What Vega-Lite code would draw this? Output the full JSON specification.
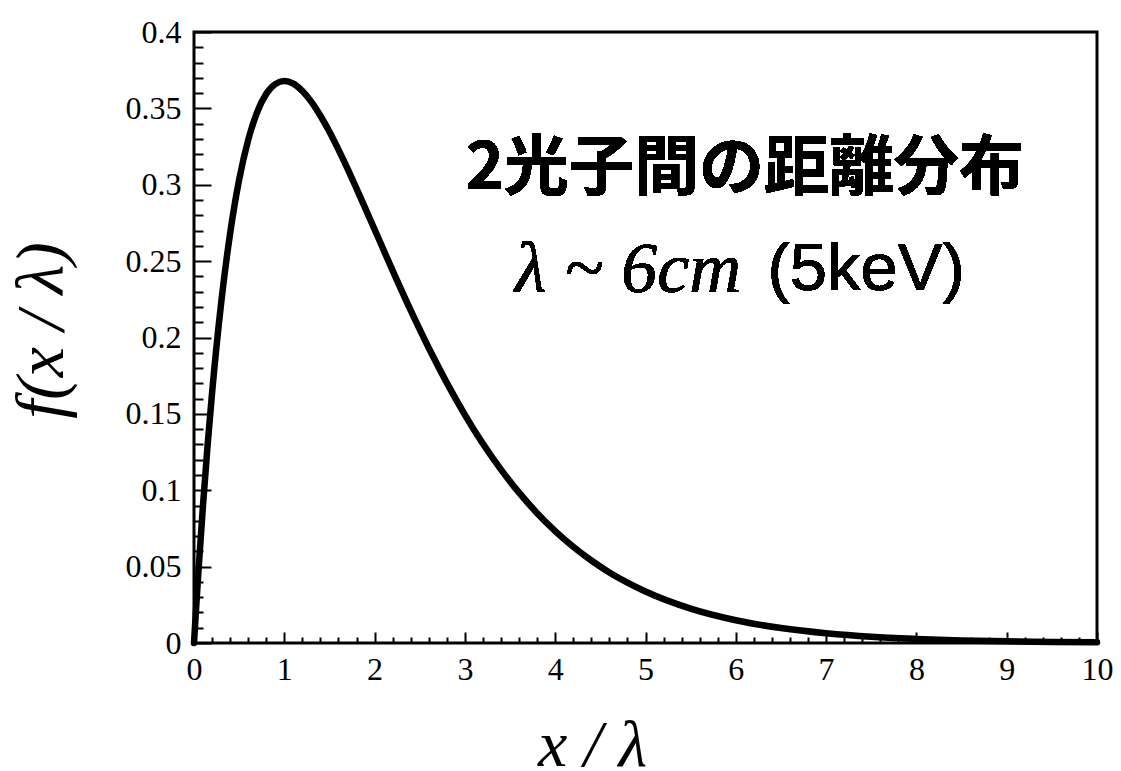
{
  "$schema": "https://vega.github.io/schema/vega-lite/v6.json",
  "width": 903,
  "height": 611,
  "autosize": "none",
  "padding": {"left": 194, "top": 32, "right": 24, "bottom": 128},
  "background": "white",
  "config": {
    "view": {"stroke": "black", "strokeWidth": 3},
    "axis": {"grid": false, "domain": false, "tickColor": "black", "labelColor": "black", "titleColor": "black"}
  },
  "data": {
    "values": [
      {"x": 0, "f": 0},
      {"x": 0.01, "f": 0.0099},
      {"x": 0.02, "f": 0.0196},
      {"x": 0.05, "f": 0.0476},
      {"x": 0.1, "f": 0.0905},
      {"x": 0.15, "f": 0.1291},
      {"x": 0.2, "f": 0.1637},
      {"x": 0.3, "f": 0.2222},
      {"x": 0.4, "f": 0.2681},
      {"x": 0.5, "f": 0.3033},
      {"x": 0.6, "f": 0.3293},
      {"x": 0.7, "f": 0.3476},
      {"x": 0.8, "f": 0.3595},
      {"x": 0.9, "f": 0.3659},
      {"x": 1.0, "f": 0.3679},
      {"x": 1.1, "f": 0.3662},
      {"x": 1.2, "f": 0.3614},
      {"x": 1.3, "f": 0.3543},
      {"x": 1.4, "f": 0.3452},
      {"x": 1.5, "f": 0.3347},
      {"x": 1.6, "f": 0.3230},
      {"x": 1.7, "f": 0.3106},
      {"x": 1.8, "f": 0.2975},
      {"x": 1.9, "f": 0.2842},
      {"x": 2.0, "f": 0.2707},
      {"x": 2.2, "f": 0.2438},
      {"x": 2.4, "f": 0.2177},
      {"x": 2.6, "f": 0.1931},
      {"x": 2.8, "f": 0.1703},
      {"x": 3.0, "f": 0.1494},
      {"x": 3.2, "f": 0.1304},
      {"x": 3.4, "f": 0.1135},
      {"x": 3.6, "f": 0.0984},
      {"x": 3.8, "f": 0.0850},
      {"x": 4.0, "f": 0.0733},
      {"x": 4.2, "f": 0.0630},
      {"x": 4.4, "f": 0.0540},
      {"x": 4.6, "f": 0.0462},
      {"x": 4.8, "f": 0.0395},
      {"x": 5.0, "f": 0.0337},
      {"x": 5.5, "f": 0.0225},
      {"x": 6.0, "f": 0.0149},
      {"x": 6.5, "f": 0.0098},
      {"x": 7.0, "f": 0.0064},
      {"x": 7.5, "f": 0.0041},
      {"x": 8.0, "f": 0.0027},
      {"x": 8.5, "f": 0.0017},
      {"x": 9.0, "f": 0.0011},
      {"x": 9.5, "f": 0.0007},
      {"x": 10.0, "f": 0.0005}
    ]
  },
  "resolve": {"axis": {"x": "independent", "y": "independent"}},
  "layer": [
    {
      "mark": {"type": "line", "color": "black", "strokeWidth": 6.5, "interpolate": "monotone", "strokeCap": "round"},
      "encoding": {
        "x": {
          "field": "x", "type": "quantitative",
          "scale": {"domain": [0, 10], "nice": false, "zero": false},
          "axis": {
            "orient": "bottom",
            "values": [0, 1, 2, 3, 4, 5, 6, 7, 8, 9, 10],
            "tickSize": -11, "tickWidth": 2,
            "labelFont": "Liberation Serif", "labelFontSize": 32, "labelPadding": 22,
            "labelFlush": false, "labelOverlap": false,
            "title": "x / λ",
            "titleFont": "Liberation Serif", "titleFontStyle": "italic", "titleFontWeight": "normal",
            "titleFontSize": 66,
            "titleAnchor": "start", "titleAlign": "center", "titleBaseline": "alphabetic",
            "titleX": 398, "titleY": 122
          }
        },
        "y": {
          "field": "f", "type": "quantitative",
          "scale": {"domain": [0, 0.4], "nice": false, "zero": false},
          "axis": {
            "orient": "left",
            "values": [0, 0.05, 0.1, 0.15, 0.2, 0.25, 0.3, 0.35, 0.4],
            "format": "~g",
            "tickSize": -17, "tickWidth": 2,
            "labelFont": "Liberation Serif", "labelFontSize": 32, "labelPadding": 30,
            "labelFlush": false, "labelOverlap": false,
            "title": "f(x / λ)",
            "titleFont": "Liberation Serif", "titleFontStyle": "italic", "titleFontWeight": "normal",
            "titleFontSize": 68,
            "titleAngle": -90, "titleAlign": "center", "titleBaseline": "middle",
            "titleX": -152, "titleY": 298
          }
        }
      }
    },
    {
      "mark": {"type": "point", "opacity": 0},
      "encoding": {
        "x": {
          "field": "x", "type": "quantitative",
          "axis": {
            "orient": "bottom",
            "values": [0.2, 0.4, 0.6, 0.8, 1.2, 1.4, 1.6, 1.8, 2.2, 2.4, 2.6, 2.8, 3.2, 3.4, 3.6, 3.8, 4.2, 4.4, 4.6, 4.8, 5.2, 5.4, 5.6, 5.8, 6.2, 6.4, 6.6, 6.8, 7.2, 7.4, 7.6, 7.8, 8.2, 8.4, 8.6, 8.8, 9.2, 9.4, 9.6, 9.8],
            "tickSize": -6, "tickWidth": 2, "labels": false, "title": null
          }
        },
        "y": {
          "field": "f", "type": "quantitative",
          "axis": {
            "orient": "left",
            "values": [0.01, 0.02, 0.03, 0.04, 0.06, 0.07, 0.08, 0.09, 0.11, 0.12, 0.13, 0.14, 0.16, 0.17, 0.18, 0.19, 0.21, 0.22, 0.23, 0.24, 0.26, 0.27, 0.28, 0.29, 0.31, 0.32, 0.33, 0.34, 0.36, 0.37, 0.38, 0.39],
            "tickSize": -9, "tickWidth": 2, "labels": false, "title": null
          }
        }
      }
    },
    {
      "mark": {"type": "text", "text": "2光子間の距離分布", "font": "Noto Sans CJK JP", "fontWeight": "bold", "fontSize": 65, "align": "center", "baseline": "middle", "color": "black"},
      "encoding": {
        "x": {"datum": 6.1, "type": "quantitative", "axis": null},
        "y": {"datum": 0.31, "type": "quantitative", "axis": null}
      }
    },
    {
      "mark": {"type": "text", "text": "λ ~ 6cm", "font": "Liberation Serif", "fontStyle": "italic", "fontSize": 72, "align": "right", "baseline": "middle", "color": "black"},
      "encoding": {
        "x": {"datum": 6.06, "type": "quantitative", "axis": null},
        "y": {"datum": 0.244, "type": "quantitative", "axis": null}
      }
    },
    {
      "mark": {"type": "text", "text": "(5keV)", "font": "Liberation Sans", "fontSize": 67, "align": "left", "baseline": "middle", "color": "black"},
      "encoding": {
        "x": {"datum": 6.35, "type": "quantitative", "axis": null},
        "y": {"datum": 0.244, "type": "quantitative", "axis": null}
      }
    }
  ]
}
